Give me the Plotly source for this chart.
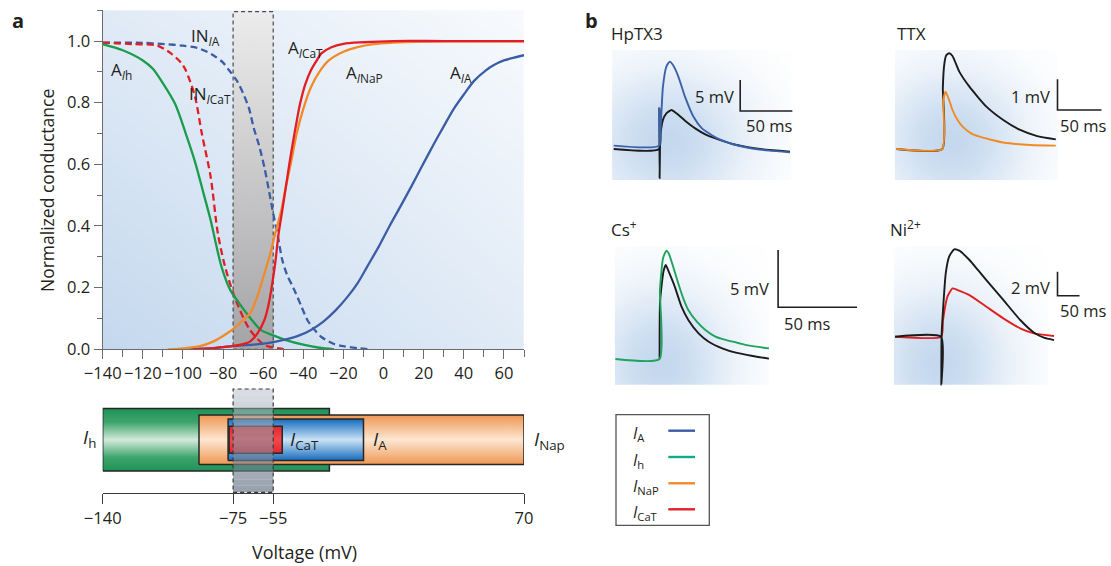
import numpy as np
import plotly.graph_objects as go

W, H = 1111, 566
FONT = "Open Sans"
TXT = "#231f20"
AXC = "#6b6b6b"

BLUE = "#3a5da6"
GREEN = "#1a9c4c"
ORANGE = "#f28a2a"
RED = "#e31d25"
BLACK = "#1b1b1b"

# ---------------- Panel a : normalized conductance curves ----------------
ah_mv = [-140, -130, -120, -115, -111, -104, -98.6, -94.2, -89.7, -86.2, -80.8, -76.4, -72, -68.3, -61.2, -55, -48.7, -40, -32, -24.7]
ah_g = [0.99, 0.97, 0.937, 0.91, 0.873, 0.797, 0.70, 0.613, 0.505, 0.419, 0.268, 0.192, 0.15, 0.117, 0.063, 0.045, 0.03, 0.015, 0.005, 0.0]

in_cat_mv = [-140, -125, -113, -106, -101, -98.6, -94, -90.6, -86.2, -82.6, -79, -73.7, -66.6, -59.4, -52, -48.7]
in_cat_g = [0.995, 0.99, 0.986, 0.96, 0.93, 0.905, 0.82, 0.70, 0.56, 0.376, 0.268, 0.16, 0.063, 0.014, 0.003, 0.0]

in_ia_mv = [-140, -120, -109, -100, -93, -88, -84, -80, -77, -73, -70, -67, -64.8, -62, -59.4, -57, -55, -52.5, -50.5, -48, -45, -41, -38, -34, -31, -25, -20, -12, -6]
in_ia_g = [0.995, 0.994, 0.99, 0.985, 0.978, 0.965, 0.95, 0.93, 0.905, 0.87, 0.83, 0.78, 0.72, 0.66, 0.59, 0.51, 0.44, 0.36, 0.29, 0.24, 0.20, 0.14, 0.095, 0.06, 0.04, 0.018, 0.01, 0.003, 0.0]

a_nap_mv = [-107.6, -100, -91.5, -85, -80.8, -77, -73.7, -70, -66.5, -63, -59.4, -56.5, -54, -51, -48.7, -46, -43.3, -40, -36.2, -32, -27.3, -20, -13, -5, 4.7, 20, 40, 70]
a_nap_g = [0, 0.003, 0.01, 0.025, 0.04, 0.056, 0.073, 0.095, 0.117, 0.17, 0.246, 0.31, 0.376, 0.45, 0.527, 0.61, 0.70, 0.78, 0.85, 0.90, 0.937, 0.965, 0.98, 0.99, 0.995, 0.998, 0.999, 0.999]

a_cat_mv = [-95, -85, -75.5, -70, -66.6, -63, -59.4, -57.5, -55.8, -54, -52.3, -50.5, -48.7, -47, -45, -43.3, -41.6, -39, -36.2, -33.5, -31, -26, -20, -10, 4.7, 30, 70]
a_cat_g = [0, 0.004, 0.01, 0.017, 0.025, 0.05, 0.095, 0.14, 0.20, 0.28, 0.376, 0.45, 0.527, 0.60, 0.678, 0.74, 0.797, 0.86, 0.905, 0.935, 0.96, 0.98, 0.991, 0.996, 1.0, 1.0, 1.0]

a_ia_mv = [-97, -85, -75.5, -65, -57.7, -48.7, -42, -36.2, -30, -23.8, -18, -13, -8, -2.4, 3, 8.3, 14, 19, 25, 29.7, 35, 40.4, 45, 51, 55, 60, 65, 70]
a_ia_g = [0, 0.004, 0.01, 0.015, 0.02, 0.032, 0.045, 0.063, 0.09, 0.127, 0.17, 0.214, 0.27, 0.333, 0.40, 0.462, 0.53, 0.592, 0.665, 0.72, 0.78, 0.83, 0.87, 0.905, 0.922, 0.937, 0.946, 0.954]

window_mv = [-75, -55]

curve_texts = ["A<sub><i>I</i>h</sub>", "IN<sub><i>I</i>A</sub>", "A<sub><i>I</i>CaT</sub>",
               "IN<sub><i>I</i>CaT</sub>", "A<sub><i>I</i>NaP</sub>", "A<sub><i>I</i>A</sub>"]

# ---------------- Panel a bottom : voltage ranges ----------------
bar_texts = ["<i>I</i><sub>h</sub>", "<i>I</i><sub>Nap</sub>", "<i>I</i><sub>A</sub>", "<i>I</i><sub>CaT</sub>"]
bar_start = [-140, -92, -77.5, -77]
bar_end = [-27, 70, -10, -50.5]
voltage_ticks = [-140, -75, -55, 70]

# ---------------- Panel b : EPSP traces (ms, mV) ----------------
hp_t_black = [-44, -0.6, -0.3, 0, 0.4, 1.0, 3.2, 6.5, 11.4, 16.2, 24.4, 34.1, 43.8, 53.6, 69.8, 86, 105.5, 125]
hp_v_black = [0, 0, 6.6, -4.7, 0.3, 2.5, 4.7, 5.75, 6.3, 5.75, 4.57, 3.33, 2.37, 1.72, 0.81, 0.27, -0.16, -0.43]
hp_t_blue = [-44, -0.6, -0.3, 0.3, 1.2, 3.2, 6.5, 9.7, 13, 17.9, 24.4, 32.5, 40.6, 53.6, 69.8, 86, 105.5, 125]
hp_v_blue = [0.54, 0.54, 6.6, 0.54, 4.0, 10.05, 13.3, 14.1, 13.5, 11.7, 8.4, 5.2, 3.33, 1.88, 0.81, 0.16, -0.27, -0.54]

ttx_t_black = [-52, 0, 0.6, 2.2, 4.5, 7.7, 11.6, 19.3, 30.8, 50.1, 69.3, 88.5, 107.8, 129]
ttx_v_black = [0, 0, 2.0, 2.75, 3.05, 3.12, 3.03, 2.52, 2.03, 1.38, 0.945, 0.62, 0.42, 0.315]
ttx_t_orange = [-52, 0, 1.2, 3.8, 7.7, 11.6, 17.3, 23.1, 32.7, 42.4, 69.3, 100, 129]
ttx_v_orange = [0, 0, 1.6, 1.87, 1.6, 1.27, 0.945, 0.73, 0.51, 0.40, 0.21, 0.13, 0.11]

cs_t_black = [0, 0.3, 2.4, 3.9, 5.8, 9.6, 13.9, 18.2, 24.7, 31.1, 39.7, 48.3, 59, 69.3]
cs_v_black = [0, 5.0, 7.6, 8.2, 7.61, 6.31, 4.56, 3.4, 2.24, 1.51, 0.93, 0.55, 0.26, 0.03]
cs_t_green = [-28, 0, 0.2, 2.2, 4.3, 5.8, 8.6, 11.8, 15, 18.2, 23.6, 29, 35.4, 41.8, 50.4, 56.9, 69.3]
cs_v_green = [0, 0, 6.0, 8.8, 9.45, 9.2, 8.05, 6.6, 5.29, 4.27, 3.25, 2.53, 1.95, 1.66, 1.37, 1.16, 0.93]

ni_t_black = [-105, -0.6, 0, 0.6, 3.9, 10.1, 17.8, 29.3, 40.9, 64, 83.2, 102.4, 140.9, 179.4, 210.2, 233.2, 256.3]
ni_v_black = [0, 0, -4.0, 0, 2.22, 5.28, 6.67, 7.28, 7.17, 6.39, 5.56, 4.72, 3.06, 1.39, 0.35, -0.08, -0.28]
ni_t_red = [-105, 0, 3.9, 13.9, 25.5, 37, 64, 102.4, 140.9, 179.4, 210.2, 256.3]
ni_v_red = [0, 0, 1.39, 3.34, 4.03, 3.89, 3.47, 2.5, 1.53, 0.7, 0.28, 0.06]

panel_titles = ["HpTX3", "TTX", "Cs<sup>+</sup>", "Ni<sup>2+</sup>"]
scale_mv = [5, 1, 5, 2]
scale_ms = [50, 50, 50, 50]

legend_texts = ["<i>I</i><sub>A</sub>", "<i>I</i><sub>h</sub>", "<i>I</i><sub>NaP</sub>", "<i>I</i><sub>CaT</sub>"]
legend_colors = ["#3a5ca8", "#12a88a", "#f08a2c", "#e32027"]


# ---------------- helpers ----------------
def fx(px):
    return px / W


def fy(py):
    return 1 - py / H


def ann_px(text, px, py, size, xanchor="left", yanchor="middle", bold=False, color=TXT):
    if bold:
        text = "<b>" + text + "</b>"
    return dict(text=text, x=fx(px), y=fy(py), xref="paper", yref="paper",
                xanchor=xanchor, yanchor=yanchor, showarrow=False,
                font=dict(family=FONT, size=size, color=color))


fig = go.Figure()
annotations = []
shapes = []
layout_axes = {}

# ---------- main conductance panel ----------
X_LEFT, X_RIGHT = 102.7, 524.0
Y_ZERO, Y_TOP = 349.3, 10.2
YMAX = 1.1

fig.add_trace(go.Heatmap(x=[-140, 70], y=[0, YMAX], z=[[0, 0.55], [0.55, 1]], zsmooth="best",
                         colorscale=[[0, "#c4d8ee"], [1, "#f8fafd"]], showscale=False,
                         hoverinfo="skip", xaxis="x", yaxis="y"))
w0, w1 = window_mv
ytop = YMAX * 0.996
fig.add_trace(go.Scatter(x=[w0, w1, w1, w0, w0], y=[0, 0, ytop, ytop, 0], mode="lines", fill="toself",
                         line=dict(color="#4a4a4a", width=1.2, dash="4px,3px"),
                         fillgradient=dict(type="vertical",
                                           colorscale=[[0, "#a4a4a7"], [1, "#ececec"]]),
                         hoverinfo="skip", xaxis="x", yaxis="y"))

curves = [
    (in_ia_mv, in_ia_g, BLUE, "7px,4px"),
    (in_cat_mv, in_cat_g, RED, "7px,4px"),
    (ah_mv, ah_g, GREEN, "solid"),
    (a_ia_mv, a_ia_g, BLUE, "solid"),
    (a_nap_mv, a_nap_g, ORANGE, "solid"),
    (a_cat_mv, a_cat_g, RED, "solid"),
]
for xs, ys, col, dash in curves:
    fig.add_trace(go.Scatter(x=xs, y=ys, mode="lines",
                             line=dict(color=col, width=2.3, dash=dash, shape="spline", smoothing=0.8),
                             hoverinfo="skip", xaxis="x", yaxis="y"))

label_pos = [(-137, 0.905), (-97, 1.015), (-48.5, 0.975), (-98, 0.825), (-19.5, 0.895), (32, 0.895)]
for txt, (lx, ly) in zip(curve_texts, label_pos):
    annotations.append(dict(text=txt, x=lx, y=ly, xref="x", yref="y", xanchor="left", yanchor="middle",
                            showarrow=False, font=dict(family=FONT, size=17, color=TXT)))

layout_axes["xaxis"] = dict(domain=[fx(X_LEFT), fx(X_RIGHT)], range=[-140, 70], anchor="y", automargin=False,
                            showline=True, linecolor=AXC, linewidth=1.3, ticks="outside", ticklen=9,
                            tickwidth=1.3, tickcolor=AXC, dtick=20, tick0=0, tickangle=0,
                            minor=dict(dtick=10, ticks="outside", ticklen=7, tickwidth=1.3, tickcolor=AXC),
                            showgrid=False, zeroline=False, tickfont=dict(family=FONT, size=16.5, color=TXT))
layout_axes["yaxis"] = dict(domain=[fy(Y_ZERO), fy(Y_TOP)], range=[0, YMAX], anchor="x", automargin=False,
                            showline=True, linecolor=AXC, linewidth=1.3, ticks="outside", ticklen=8,
                            tickwidth=1.3, tickcolor=AXC, dtick=0.2, tick0=0, tickformat=".1f",
                            minor=dict(dtick=0.1, ticks="outside", ticklen=5, tickwidth=1.3, tickcolor=AXC),
                            showgrid=False, zeroline=False, tickfont=dict(family=FONT, size=16.5, color=TXT))
annotations.append(dict(text="Normalized conductance", x=fx(47), y=fy(190), xref="paper", yref="paper",
                        textangle=-90, showarrow=False, xanchor="center", yanchor="middle",
                        font=dict(family=FONT, size=17.5, color=TXT)))
annotations.append(ann_px("a", 18, 20, 20, xanchor="center", bold=True))
annotations.append(ann_px("b", 591, 20, 20, xanchor="center", bold=True))

# ---------- voltage range bars ----------
AX2_BOTTOM, AX2_TOP = 493.3, 380.0
center = 53.5
halfs = [31.2, 24.7, 20.7, 13.5]
bar_grads = [
    [[0, "#1f9357"], [0.22, "#3ea56c"], [0.5, "#d3eadc"], [0.78, "#3ea56c"], [1, "#1f9357"]],
    [[0, "#ee9852"], [0.5, "#fde6d2"], [1, "#ee9852"]],
    [[0, "#176cbd"], [0.5, "#cae2f6"], [1, "#176cbd"]],
    [[0, "#e2262e"], [0.5, "#f2484e"], [1, "#e2262e"]],
]
for i in range(4):
    s, e, hh = bar_start[i], bar_end[i], halfs[i]
    fig.add_trace(go.Scatter(x=[s, e, e, s, s], y=[center - hh, center - hh, center + hh, center + hh, center - hh],
                             mode="lines", fill="toself", line=dict(color="#262626", width=1.5),
                             fillgradient=dict(type="vertical", colorscale=bar_grads[i]),
                             hoverinfo="skip", xaxis="x2", yaxis="y2"))

# translucent voltage window over the bars: stacked bands give a vertical gradient
WIN_Y0, WIN_Y1 = 1.0, 104.3
nb = 16
edges = np.linspace(WIN_Y0, WIN_Y1, nb + 1)
c_bot = np.array([92, 108, 126, 0.64])
c_top = np.array([186, 197, 208, 0.55])
for j in range(nb):
    f = (j + 0.5) / nb
    c = c_bot + (c_top - c_bot) * f
    shapes.append(dict(type="rect", xref="x2", yref="y2", x0=w0, x1=w1, y0=edges[j], y1=edges[j + 1],
                       line=dict(width=0), layer="above",
                       fillcolor="rgba(%d,%d,%d,%.3f)" % (c[0], c[1], c[2], c[3])))
shapes.append(dict(type="rect", xref="x2", yref="y2", x0=w0, x1=w1, y0=WIN_Y0, y1=WIN_Y1, layer="above",
                   line=dict(color="#3a3a3a", width=1.2, dash="4px,3px"), fillcolor="rgba(0,0,0,0)"))

layout_axes["xaxis2"] = dict(domain=[fx(X_LEFT), fx(X_RIGHT)], range=[-140, 70], anchor="y2", automargin=False,
                             showline=True, linecolor="#3a3a3a", linewidth=1.3, ticks="outside", ticklen=10,
                             tickwidth=1.3, tickcolor="#3a3a3a", tickvals=voltage_ticks, tickangle=0,
                             showgrid=False, zeroline=False, tickfont=dict(family=FONT, size=16.5, color=TXT))
layout_axes["yaxis2"] = dict(domain=[fy(AX2_BOTTOM), fy(AX2_TOP)], range=[0, AX2_BOTTOM - AX2_TOP],
                             anchor="x2", visible=False, automargin=False)

bar_label_px = [(98, 438, "right"), (531.7, 440, "left"), (370.7, 440, "left"), (288.3, 440, "left")]
for txt, (lx, ly, xa) in zip(bar_texts, bar_label_px):
    annotations.append(ann_px(txt, lx, ly, 19, xanchor=xa))
annotations.append(ann_px("Voltage (mV)", 304, 552, 18, xanchor="center"))

# ---------- panel b ----------
panels = [
    dict(dom=(608, 796, 46, 184), t0=659.6, v0=149, pxms=1.043, pxmv=6.2, box=(612.2, 50, 791.6, 180),
         glow=(0.3, 0.3), traces=[(hp_t_black, hp_v_black, BLACK), (hp_t_blue, hp_v_blue, "#3b62a8")],
         corner=(740.2, 111), mv_lab=(736, 96.7), ms_lab=(744, 125), title=(609, 33.3)),
    dict(dom=(890, 1109, 46, 184), t0=942.3, v0=149, pxms=0.88, pxmv=30.7, box=(894.9, 50, 1057.5, 180),
         glow=(0.35, 0.3), traces=[(ttx_t_black, ttx_v_black, BLACK), (ttx_t_orange, ttx_v_orange, "#f08a24")],
         corner=(1057.5, 110), mv_lab=(1052.4, 96.7), ms_lab=(1057.5, 125), title=(895, 33.3)),
    dict(dom=(610, 862, 243, 390), t0=659.6, v0=359, pxms=1.578, pxmv=11.47, box=(614.9, 246.7, 769, 385),
         glow=(0.3, 0.15), traces=[(cs_t_black, cs_v_black, BLACK), (cs_t_green, cs_v_green, "#1fa35e")],
         corner=(778.1, 307.3), mv_lab=(771.3, 288.3), ms_lab=(781.5, 323.3), title=(609, 228.3)),
    dict(dom=(886, 1090, 243, 390), t0=941.3, v0=336.7, pxms=0.44, pxmv=12.0, box=(893.9, 246.7, 1048.3, 385),
         glow=(0.3, 0.15), traces=[(ni_t_red, ni_v_red, "#e0201f"), (ni_t_black, ni_v_black, BLACK)],
         corner=(1057.5, 295.7), mv_lab=(1051.7, 287.3), ms_lab=(1057.5, 310), title=(888.2, 228.3)),
]

for k, p in enumerate(panels):
    n = k + 3
    xa, ya = "x%d" % n, "y%d" % n
    x0p, x1p, y0p, y1p = p["dom"]
    t0px, v0py, pxms, pxmv = p["t0"], p["v0"], p["pxms"], p["pxmv"]
    layout_axes["xaxis%d" % n] = dict(domain=[fx(x0p), fx(x1p)],
                                      range=[(x0p - t0px) / pxms, (x1p - t0px) / pxms],
                                      anchor=ya, visible=False, automargin=False)
    layout_axes["yaxis%d" % n] = dict(domain=[fy(y1p), fy(y0p)],
                                      range=[(v0py - y1p) / pxmv, (v0py - y0p) / pxmv],
                                      anchor=xa, visible=False, automargin=False)
    bx0, by0, bx1, by1 = p["box"]
    bt0, bt1 = (bx0 - t0px) / pxms, (bx1 - t0px) / pxms
    bvb, bvt = (v0py - by1) / pxmv, (v0py - by0) / pxmv
    nx, ny = 32, 22
    xe = np.linspace(bt0, bt1, nx + 1)
    ye = np.linspace(bvb, bvt, ny + 1)
    xc = (xe[:-1] + xe[1:]) / 2
    yc = (ye[:-1] + ye[1:]) / 2
    XX, YY = np.meshgrid((xc - bt0) / (bt1 - bt0), (yc - bvb) / (bvt - bvb))
    gx, gy = p["glow"]
    zz = np.exp(-((XX - gx) / 0.45) ** 2 - ((YY - gy) / 0.55) ** 2)
    fig.add_trace(go.Heatmap(x=xe, y=ye, z=zz, zmin=0, zmax=1, zsmooth="best",
                             colorscale=[[0, "#ffffff"], [1, "#c4d8ee"]], showscale=False,
                             hoverinfo="skip", xaxis=xa, yaxis=ya))
    for ts, vs, col in p["traces"]:
        fig.add_trace(go.Scatter(x=ts, y=vs, mode="lines",
                                 line=dict(color=col, width=1.9, shape="spline", smoothing=0.5),
                                 hoverinfo="skip", xaxis=xa, yaxis=ya))
    cpx, cpy = p["corner"]
    tc, vc = (cpx - t0px) / pxms, (v0py - cpy) / pxmv
    fig.add_trace(go.Scatter(x=[tc, tc, tc + scale_ms[k]], y=[vc + scale_mv[k], vc, vc], mode="lines",
                             line=dict(color="#231f20", width=1.6), hoverinfo="skip", xaxis=xa, yaxis=ya))
    annotations.append(ann_px("%d mV" % scale_mv[k], p["mv_lab"][0], p["mv_lab"][1], 16.5, xanchor="right"))
    annotations.append(ann_px("%d ms" % scale_ms[k], p["ms_lab"][0], p["ms_lab"][1], 16.5, xanchor="left"))
    annotations.append(ann_px(panel_titles[k], p["title"][0], p["title"][1], 17, xanchor="left"))

# ---------- legend box ----------
LB = (616, 414.7, 709.3, 525.3)
shapes.append(dict(type="rect", xref="paper", yref="paper", x0=fx(LB[0]), x1=fx(LB[2]), y0=fy(LB[3]), y1=fy(LB[1]),
                   line=dict(color="#555555", width=1.3), fillcolor="rgba(0,0,0,0)"))
leg_y = [430.7, 457.0, 483.3, 509.3]
for txt, col, ly in zip(legend_texts, legend_colors, leg_y):
    shapes.append(dict(type="line", xref="paper", yref="paper", x0=fx(668.3), x1=fx(695), y0=fy(ly), y1=fy(ly),
                       line=dict(color=col, width=2.4)))
    annotations.append(ann_px(txt, 630.5, ly + 3, 16, xanchor="left"))

fig.update_layout(template="none", width=W, height=H, margin=dict(l=0, r=0, t=0, b=0, pad=0),
                  autosize=False,
                  paper_bgcolor="white", plot_bgcolor="rgba(0,0,0,0)", showlegend=False,
                  annotations=annotations, shapes=shapes, font=dict(family=FONT, color=TXT),
                  **layout_axes)
fig.write_html("out.html")
